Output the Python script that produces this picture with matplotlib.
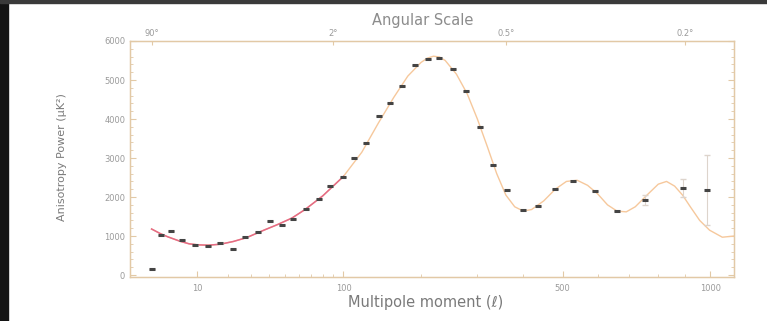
import numpy as np
import matplotlib.pyplot as plt
from matplotlib.patches import Rectangle

# 관측 데이터 (multipole l, power uK^2)
data_l = [2, 3, 4.5, 6.4, 9.5, 12.9, 16.8, 21.9, 27.4, 33.6, 40.4, 48.2, 55.8,
          65.7, 76.3, 86.9, 99.1, 110.7, 124.8, 140.1, 155.3, 171.5, 191, 210.3,
          230, 253.4, 278, 305.4, 332, 362, 398.7, 436.6, 479.4, 527.4, 591.8,
          660.9, 753, 890, 987]
data_p = [160, 1020, 1130, 886, 758, 732, 809, 664, 970, 1106, 1379, 1277, 1438,
          1685, 1948, 2272, 2520, 2995, 3378, 4085, 4399, 4851, 5387, 5548,
          5573, 5277, 4723, 3786, 2834, 2170, 1677, 1762, 2196, 2408, 2152,
          1634, 1915, 2240, 2190]
data_err = [0] * 36 + [130, 230, 900]

# 이론 곡선
model_l = [2, 3, 4, 6, 8, 10, 13, 17, 22, 28, 37, 45, 55, 65, 80, 100, 120, 140,
           160, 180, 200, 210, 220, 230, 240, 260, 280, 300, 320, 340, 360, 380,
           400, 420, 450, 480, 510, 540, 570, 600, 630, 660, 690, 720, 760, 800,
           830, 860, 890, 920, 957, 997, 1050, 1100]
model_p = [1180, 1060, 980, 870, 800, 775, 765, 790, 860, 960, 1150, 1290, 1460,
           1680, 2030, 2530, 3150, 3900, 4550, 5100, 5450, 5560, 5610, 5590, 5500,
           5150, 4650, 4000, 3300, 2600, 2050, 1750, 1640, 1680, 1900, 2200, 2400,
           2430, 2300, 2080, 1800, 1640, 1620, 1750, 2050, 2330, 2400, 2280, 2050,
           1750, 1400, 1150, 970, 1000]
low_n = 16  # l <= 100 구간 (붉은 선)

yticks = [0, 1000, 2000, 3000, 4000, 5000, 6000]
xticks = [10, 100, 500, 1000]
xminor = [20, 30, 40, 50, 60, 70, 80, 90, 200, 300, 400, 600, 700, 800, 900]
top_l = [2, 90, 360, 900]
top_labels = ['90°', '2°', '0.5°', '0.2°']

fwd = lambda x: np.power(np.maximum(x, 0), 0.4)
inv = lambda x: np.power(np.maximum(x, 0), 2.5)

spine_c = '#e2c9a6'
txt_c = '#9a9a9a'

fig = plt.figure(figsize=(7.67, 3.21), dpi=100)
ax = fig.add_axes([130 / 767, 1 - 277 / 321, 604 / 767, 236 / 321])
ax.set_xscale('function', functions=(fwd, inv))
ax.set_xlim(0.5, 1100)
ax.set_ylim(-50, 6000)

ax.plot(model_l, model_p, color='#f6c89c', lw=1.0, zorder=2)
ax.plot(model_l[:low_n], model_p[:low_n], color='#e56a86', lw=1.1, zorder=3)

ax.errorbar(data_l, data_p, yerr=data_err, fmt='none', ecolor='#ddd4cc',
            elinewidth=0.8, capsize=2, zorder=4)
ax.plot(data_l, data_p, ls='none', marker='_', ms=4.5, mew=2.2,
        color='#444444', zorder=5)

ax.set_yticks(yticks)
ax.set_yticks(np.arange(0, 6001, 200), minor=True)
ax.set_xticks(xticks)
ax.set_xticklabels([str(t) for t in xticks])
ax.set_xticks(xminor, minor=True)
ax.set_xticklabels([], minor=True)

for s in ax.spines.values():
    s.set_color(spine_c)
    s.set_linewidth(1.0)
ax.tick_params(which='both', direction='in', color=spine_c, labelcolor=txt_c,
               labelsize=6, right=True)
ax.tick_params(which='major', length=4)
ax.tick_params(which='minor', length=2)
ax.tick_params(axis='x', pad=5)

# 위쪽 각도 축
top = ax.twiny()
top.set_xscale('function', functions=(fwd, inv))
top.set_xlim(ax.get_xlim())
top.set_xticks(top_l)
top.set_xticklabels(top_labels)
top.set_xticks([], minor=True)
for s in top.spines.values():
    s.set_color(spine_c)
top.tick_params(direction='in', color=spine_c, labelcolor=txt_c, labelsize=6,
                length=3, pad=2)

fig.text(423 / 767, 1 - 20 / 321, 'Angular Scale', ha='center', va='center',
         fontsize=10.5, color='#8c8c8c')
fig.text(426 / 767, 1 - 302 / 321, 'Multipole moment (ℓ)', ha='center',
         va='center', fontsize=10.5, color='#7a7a7a')
fig.text(62 / 767, 1 - 157 / 321, 'Anisotropy Power (μK²)', ha='center',
         va='center', rotation=90, fontsize=8, color='#7a7a7a')

# 테두리
fig.patches.append(Rectangle((0, 0), 8 / 767, 1, transform=fig.transFigure,
                             color='#141414', zorder=0))
fig.patches.append(Rectangle((0, 1 - 3 / 321), 1, 3 / 321,
                             transform=fig.transFigure, color='#3a3a3a', zorder=0))

fig.savefig('out.png', dpi=100)
